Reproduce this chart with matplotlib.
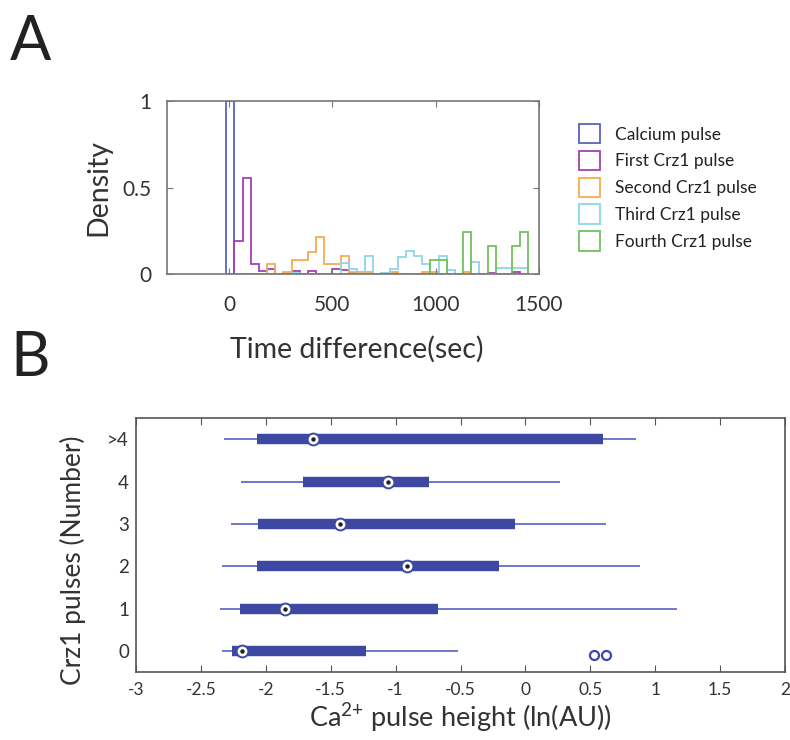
import numpy as np
import matplotlib
matplotlib.use("Agg")
import matplotlib.pyplot as plt
from matplotlib.patches import Patch

plt.rcParams['font.family'] = ['Lato', 'DejaVu Sans']
plt.rcParams['axes.unicode_minus'] = False
plt.rcParams['mathtext.fontset'] = 'custom'
plt.rcParams['mathtext.rm'] = 'Lato'
plt.rcParams['mathtext.it'] = 'Lato:italic'
plt.rcParams['mathtext.bf'] = 'Lato:bold'

# ---------------- Panel A data ----------------
hist_start = -13.0
hist_width = 39.5
n_bins = 37
bin_edges = hist_start + hist_width * np.arange(n_bins + 1)

series_names = ["Calcium pulse", "First Crz1 pulse", "Second Crz1 pulse",
                "Third Crz1 pulse", "Fourth Crz1 pulse"]
series_colors = ["#5b62c4", "#a83fb2", "#f6ad52", "#8dd6ea", "#72c25a"]

calcium = [1.0] + [0.0] * 36
first = [0, 0.19, 0.553, 0.056, 0.019, 0.03, 0, 0, 0.02, 0, 0.015, 0, 0,
         0.03, 0.022, 0.005, 0, 0, 0, 0, 0.008, 0, 0, 0, 0, 0, 0, 0, 0, 0,
         0, 0, 0.008, 0, 0, 0.01, 0]
second = [0, 0, 0, 0, 0, 0.058, 0, 0.01, 0.081, 0.081, 0.127, 0.213, 0.058,
          0.058, 0.104, 0.01, 0.01, 0.01, 0, 0.005, 0.01, 0, 0, 0, 0.01,
          0.01, 0, 0, 0, 0.01, 0, 0, 0, 0, 0, 0, 0]
third = [0, 0, 0, 0, 0, 0, 0, 0, 0.005, 0, 0, 0, 0, 0, 0.063, 0.03, 0,
         0.104, 0, 0.008, 0.03, 0.1, 0.133, 0.104, 0.058, 0, 0.104, 0.025,
         0, 0, 0.068, 0, 0, 0.032, 0.032, 0.032, 0.032]
fourth = [0] * 25 + [0.08, 0.08, 0, 0, 0.24, 0, 0, 0.16, 0, 0, 0.16, 0.24]
series_values = [calcium, first, second, third, fourth]

# ---------------- Panel B data ----------------
groups = ["0", "1", "2", "3", "4", ">4"]
whisker_lo = [-2.34, -2.35, -2.34, -2.27, -2.19, -2.32]
q1 = [-2.26, -2.20, -2.07, -2.06, -1.71, -2.07]
median = [-2.18, -1.85, -0.91, -1.43, -1.06, -1.64]
q3 = [-1.23, -0.67, -0.20, -0.08, -0.74, 0.60]
whisker_hi = [-0.52, 1.17, 0.88, 0.62, 0.27, 0.85]
outlier_group = [0, 0]
outlier_values = [0.53, 0.62]

# ---------------- Figure ----------------
W, H = 790, 740
fig = plt.figure(figsize=(W / 100, H / 100), dpi=100)

def frac(x0, y0, x1, y1):
    return [x0 / W, 1 - y1 / H, (x1 - x0) / W, (y1 - y0) / H]

# Panel A
axA = fig.add_axes(frac(167, 101, 539, 274))
for vals, col, name in zip(series_values, series_colors, series_names):
    axA.stairs(vals, bin_edges, color=col, lw=1.3, baseline=0, label=name)
axA.set_xlim(-300, 1500)
axA.set_ylim(0, 1)
axA.set_xticks([0, 500, 1000, 1500])
axA.set_yticks([0, 0.5, 1])
axA.set_yticklabels(["0", "0.5", "1"])
axA.tick_params(axis='both', direction='in', top=True, right=True,
                length=4, width=0.8, colors='#777777', labelcolor='#333333')
axA.tick_params(axis='x', labelsize=15, pad=15)
axA.tick_params(axis='y', labelsize=15, pad=11)
for s in axA.spines.values():
    s.set_color('#777777')
    s.set_linewidth(1.2)
axA.set_ylabel("Density", fontsize=20.5, color='#333333')
axA.yaxis.set_label_coords(-0.15, 0.5)
axA.set_xlabel("Time difference(sec)", fontsize=20.5, color='#333333')
axA.xaxis.set_label_coords(0.51, -0.355)

handles = [Patch(facecolor='white', edgecolor=c, lw=1.3) for c in series_colors]
fig.legend(handles, series_names, loc='upper left',
           bbox_to_anchor=(579 / W, 1 - 124 / H), frameon=False,
           fontsize=12.5, handlelength=1.2, handleheight=1.35,
           handletextpad=0.85, labelspacing=0.42, borderpad=0,
           borderaxespad=0, labelcolor='#222222')

fig.text(10 / W, 1 - 60 / H, "A", fontsize=44, color='#222222')
fig.text(10 / W, 1 - 376 / H, "B", fontsize=44, color='#222222')

# Panel B
axB = fig.add_axes(frac(136, 418, 785, 672))
ypos = np.arange(len(groups))
box_col = "#3d48a3"
whisk_col = "#6f78cc"
axB.hlines(ypos, whisker_lo, whisker_hi, color=whisk_col, lw=1.4, zorder=2)
axB.hlines(ypos, q1, q3, color=box_col, lw=7.5, zorder=3)
axB.plot(median, ypos, 'o', ms=8.5, mfc='white', mec=box_col, mew=1.4, zorder=4)
axB.plot(median, ypos, 'o', ms=2.2, mfc='#222222', mec='#222222', zorder=5)
axB.plot(outlier_values, np.array(outlier_group) - 0.1, 'o', ms=6.5,
         mfc='none', mec=box_col, mew=1.6, zorder=4)
axB.set_xlim(-3, 2)
axB.set_ylim(-0.5, 5.5)
axB.set_xticks(np.arange(-3, 2.01, 0.5))
axB.set_xticklabels(["-3", "-2.5", "-2", "-1.5", "-1", "-0.5", "0", "0.5",
                     "1", "1.5", "2"])
axB.set_yticks(ypos)
axB.set_yticklabels(groups)
axB.tick_params(axis='x', direction='in', top=True, length=5, width=0.8,
                colors='#555555', labelcolor='#333333', labelsize=12.5, pad=7)
axB.tick_params(axis='y', length=0, labelsize=13.5, pad=5, labelcolor='#333333')
for s in axB.spines.values():
    s.set_color('#555555')
    s.set_linewidth(1.2)
axB.set_ylabel("Crz1 pulses (Number)", fontsize=19, color='#333333')
axB.yaxis.set_label_coords(-0.077, 0.44)
axB.set_xlabel("Ca$^{2{+}}$ pulse height (ln(AU))", fontsize=19.5,
               color='#333333')
axB.xaxis.set_label_coords(0.5, -0.115)

fig.savefig("out.png", dpi=100)
